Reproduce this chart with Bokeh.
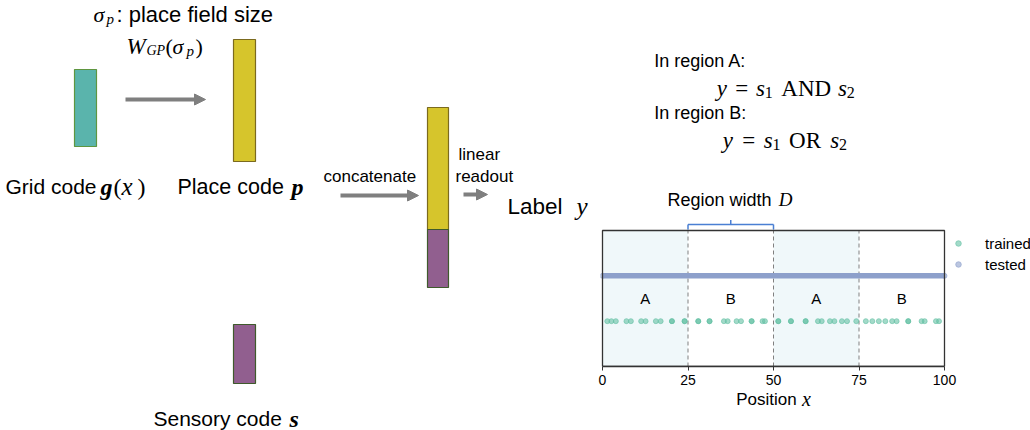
from bokeh.plotting import figure
from bokeh.layouts import row, column
from bokeh.models import (ColumnDataSource, Range1d, Arrow, NormalHead, Legend,
                          LegendItem, FixedTicker)
from bokeh.core.properties import value
from bokeh.embed import file_html
from bokeh.resources import INLINE

# ---------------- chart data ----------------
trained_x = [1.4, 2.6, 3.9, 7.0, 8.3, 11.3, 12.6, 15.6, 17.0, 20.3, 20.3, 24.0, 24.0,
             28.0, 28.0, 31.3, 31.3, 35.5, 36.6, 39.2, 40.5, 43.6, 43.6, 46.8, 47.5,
             51.4, 51.4, 55.1, 55.1, 59.4, 59.4, 63.0, 64.1, 66.5, 67.8, 70.0, 71.5,
             74.2, 77.0, 78.9, 80.8, 82.7, 84.7, 86.0, 89.4, 89.4, 93.3, 94.2, 97.5, 98.4]
trained_row = 0
tested_span = [0, 100]
tested_row = 1
region_bounds = [0, 25, 50, 75, 100]
region_labels = ["A", "B", "A", "B"]
x_ticks = [0, 25, 50, 75, 100]

SANS = "Liberation Sans"
SERIF = "Liberation Serif"
GRAY = "#7f7f7f"
TEAL, YELLOW, PURPLE = "#5ab4ac", "#d6c52c", "#915f8f"

# chart coordinate frame shared by the chart and its caption strip
X_RANGE = (-0.585, 125.146)


def runs_source(runs, dx=0, dy=0):
    cols = dict(x=[], y=[], text=[], font=[], style=[], size=[])
    for text, x, y, font, style, size in runs:
        cols["x"].append(x + dx)
        cols["y"].append(y + dy)
        cols["text"].append(text)
        cols["font"].append(font)
        cols["style"].append(style)
        cols["size"].append(f"{size}px")
    return ColumnDataSource(cols)


def draw_runs(p, runs, dx=0, dy=-7):
    p.text(x="x", y="y", text="text", source=runs_source(runs, dx, dy), text_font="font",
           text_font_style="style", text_font_size="size", text_baseline="alphabetic",
           text_align="left", text_color="black")


def blank(width, height, xr, yr, **kw):
    opts = dict(min_border=0)
    opts.update(kw)
    p = figure(width=width, height=height, x_range=Range1d(*xr), y_range=Range1d(*yr),
               output_backend="svg", toolbar_location=None,
               x_axis_location=None, y_axis_location=None, **opts)
    p.outline_line_color = None
    p.grid.visible = False
    return p


# ---------------- network diagram (screen-like units) ----------------
diag = blank(590, 430, (0, 590), (430, 0))

blocks = dict(
    left=[74, 233, 233, 427, 427],
    right=[96, 255, 255, 448, 448],
    top=[69, 39, 324, 107, 229],
    bottom=[146, 161, 383, 229, 287],
    fill=[TEAL, YELLOW, PURPLE, YELLOW, PURPLE],
    edge=["#5f9640", "#7b6a1e", "#3f5a2c", "#7b6a1e", "#3f5a2c"],
)
diag.quad(left="left", right="right", top="top", bottom="bottom", source=ColumnDataSource(blocks),
          fill_color="fill", line_color="edge", line_width=1.2)

for x0, x1, yy in [(125, 205, 99), (340, 418, 195), (463, 487, 194)]:
    diag.add_layout(Arrow(end=NormalHead(size=11, fill_color=GRAY, line_color=GRAY),
                          x_start=x0, y_start=yy, x_end=x1, y_end=yy,
                          line_color=GRAY, line_width=4))

draw_runs(diag, [
    ("σ", 93, 21, SERIF, "italic", 22),
    ("p", 106, 25, SERIF, "italic", 15),
    (": place field size", 116, 21, SANS, "normal", 22),
    ("W", 126, 53, SERIF, "italic", 23),
    ("GP", 146, 57, SERIF, "italic", 14),
    ("(", 165, 53, SERIF, "normal", 22),
    ("σ", 172, 53, SERIF, "italic", 22),
    ("p", 186, 57, SERIF, "italic", 15),
    (")", 195, 53, SERIF, "normal", 22),
    ("Grid code", 5, 193, SANS, "normal", 21),
    ("g", 100, 193, SERIF, "bold italic", 24),
    ("(", 113, 193, SERIF, "normal", 24),
    ("x", 121, 193, SERIF, "italic", 25),
    (")", 137, 193, SERIF, "normal", 24),
    ("Place code", 177, 193, SANS, "normal", 21.5),
    ("p", 291, 193, SERIF, "bold italic", 24),
    ("Sensory code", 153, 425, SANS, "normal", 21),
    ("s", 289, 425, SERIF, "bold italic", 24),
    ("concatenate", 323, 183, SANS, "normal", 17),
    ("linear", 458, 161, SANS, "normal", 17),
    ("readout", 455, 183, SANS, "normal", 17),
    ("Label", 507, 213, SANS, "normal", 22.5),
    ("y", 576, 213, SERIF, "italic", 25),
])

# ---------------- task rules ----------------
rules = blank(440, 180, (590, 1030), (180, 0))
draw_runs(rules, [
    ("In region A:", 653, 67, SANS, "normal", 18),
    ("y", 717, 95, SERIF, "italic", 23),
    ("=", 736, 95, SERIF, "normal", 23),
    ("s", 757, 95, SERIF, "italic", 23),
    ("1", 766, 99, SERIF, "normal", 16),
    ("AND", 783, 95, SERIF, "normal", 23),
    ("s", 841, 95, SERIF, "italic", 23),
    ("2", 850, 99, SERIF, "normal", 16),
    ("In region B:", 653, 119, SANS, "normal", 18),
    ("y", 723, 147, SERIF, "italic", 23),
    ("=", 743, 147, SERIF, "normal", 23),
    ("s", 765, 147, SERIF, "italic", 23),
    ("1", 774, 151, SERIF, "normal", 16),
    ("OR", 791, 147, SERIF, "normal", 23),
    ("s", 833, 147, SERIF, "italic", 23),
    ("2", 842, 151, SERIF, "normal", 16),
], dx=-8)

# ---------------- position chart ----------------
chart = figure(width=440, height=209, x_range=Range1d(*X_RANGE), y_range=Range1d(-1, 2.993),
               output_backend="svg", toolbar_location=None, y_axis_location=None,
               min_border_left=10, min_border_right=0, min_border_top=5, min_border_bottom=23)
chart.outline_line_color = None
chart.grid.visible = False

box_bottom, box_top = -1, 2
a_left = [region_bounds[i] for i, lab in enumerate(region_labels) if lab == "A"]
a_right = [region_bounds[i + 1] for i, lab in enumerate(region_labels) if lab == "A"]
chart.quad(left=a_left, right=a_right, bottom=box_bottom, top=box_top,
           fill_color="#add8e6", fill_alpha=0.18, line_color=None)

inner = region_bounds[1:-1]
chart.segment(x0=inner, x1=inner, y0=box_bottom, y1=[2.02, 2.02, box_top],
              line_color="#808080", line_dash="4 3", line_width=1)

r_tested = chart.scatter(x=tested_span, y=[tested_row] * len(tested_span), size=5,
                         fill_color="#8da0cb", line_color="#8da0cb",
                         fill_alpha=0.6, line_alpha=0.6)
chart.segment(x0=tested_span[0], x1=tested_span[1], y0=tested_row, y1=tested_row,
              line_color="#8da0cb", line_width=5.5)
r_trained = chart.scatter(x=trained_x, y=[trained_row] * len(trained_x), size=5,
                          fill_color="#66c2a5", line_color="#66c2a5", fill_alpha=0.6, line_alpha=0.6)

mids = [(region_bounds[i] + region_bounds[i + 1]) / 2 for i in range(len(region_labels))]
chart.text(x=mids, y=0.5, text=region_labels, text_font=value(SANS), text_font_size="15px",
           text_align="center", text_baseline="middle", text_color="black")

chart.quad(left=region_bounds[0], right=region_bounds[-1], bottom=box_bottom, top=box_top,
           fill_color=None, line_color="#333333", line_width=1.3)

# bracket marking one region's width
d0, d1 = region_bounds[1], region_bounds[2]
by, leg, bump = 2.133, 2.02, 2.23
chart.segment(x0=[d0, d0, d1, (d0 + d1) / 2], x1=[d1, d0, d1, (d0 + d1) / 2],
              y0=[by, by, by, by], y1=[by, leg, leg, bump], line_color="#4a7fd3", line_width=1.5)
chart.text(x=[19.0, 51.5], y=[2.68, 2.68], text=["Region width", "D"],
           text_font=[SANS, SERIF], text_font_style=["normal", "italic"],
           text_font_size=["18px", "19px"], text_baseline="alphabetic", text_color="black")

ax = chart.xaxis[0]
ax.ticker = FixedTicker(ticks=x_ticks)
ax.bounds = (region_bounds[0], region_bounds[-1])
ax.axis_line_color = "#333333"
ax.axis_line_width = 1.3
ax.major_tick_line_color = "#333333"
ax.major_tick_in = 0
ax.major_tick_out = 4
ax.minor_tick_line_color = None
ax.major_label_text_font = SANS
ax.major_label_text_font_size = "14px"
ax.major_label_text_color = "black"
ax.major_label_standoff = 4

legend = Legend(items=[LegendItem(label="trained", renderers=[r_trained]),
                       LegendItem(label="tested", renderers=[r_tested])],
                location=(351, 92), padding=0, margin=0, spacing=1, glyph_width=14,
                glyph_height=20, label_standoff=20, label_text_font=SANS,
                label_text_font_size="15px", label_text_color="black",
                background_fill_alpha=0, border_line_color=None)
chart.add_layout(legend)

# axis caption strip below the chart, in the chart's x units
caption = blank(440, 41, X_RANGE, (430, 389), min_border_left=10, min_border_right=0)
draw_runs(caption, [
    ("Position", 39.1, 405.7, SANS, "normal", 17),
    ("x", 58.3, 405.7, SERIF, "italic", 20),
])

layout = row(diag, column(rules, chart, caption, spacing=0), spacing=0)
open("out.html", "w").write(file_html(layout, INLINE))
